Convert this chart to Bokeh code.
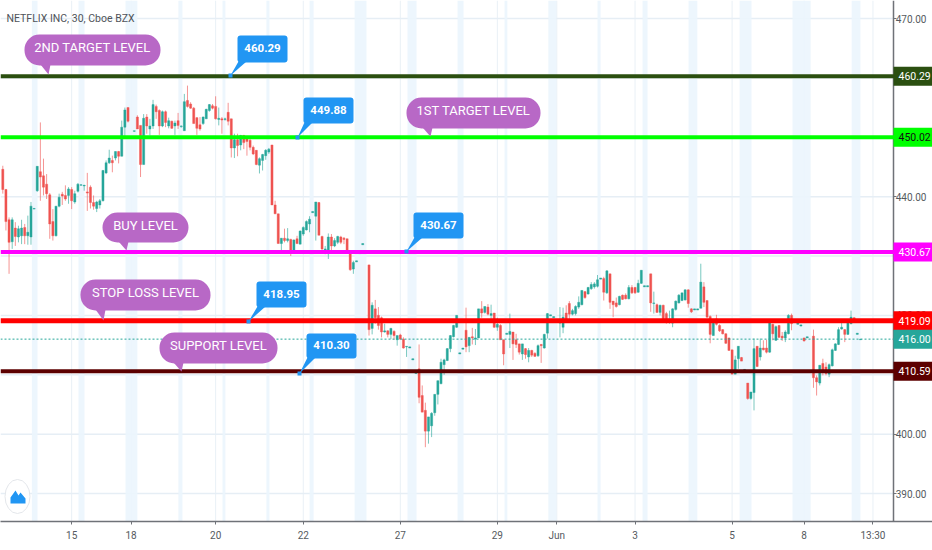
from bokeh.plotting import figure
from bokeh.models import (Label, Span, BoxAnnotation, PolyAnnotation, FixedTicker, LinearAxis,
                          NumeralTickFormatter, Range1d)
from bokeh.embed import file_html
from bokeh.resources import INLINE

opens = [
444.6,441.2,436.1,432.4,434.7,433.2,433.4,434.8,433.4,433.2,
437.9,441.0,444.2,443.5,442.1,440.3,435.8,433.4,438.4,440.4,
440.2,440.2,441.2,439.1,440.9,441.9,441.8,440.8,441.6,439.0,
438.0,438.6,439.3,444.0,445.7,446.1,446.5,447.6,446.8,451.7,
455.0,450.0,451.0,453.4,452.0,445.4,453.4,451.4,451.9,455.2,
454.5,451.9,454.3,451.9,452.7,451.9,452.8,
451.8,451.1,456.2,455.6,454.9,453.3,452.1,452.3,453.1,454.5,
455.3,455.2,453.0,453.1,453.0,454.2,453.1,448.2,449.6,448.7,
450.3,449.7,449.5,448.3,447.8,445.3,446.1,446.9,447.5,448.7,
438.6,437.1,432.1,433.0,432.6,432.8,430.8,432.9,432.0,433.7,
434.4,435.4,437.3,436.7,439.0,433.3,430.8,430.4,433.2,431.7,
432.3,433.2,433.0,432.9,430.9,427.8,
429.0,430.4,431.9,430.5,428.5,417.8,421.1,420.0,419.6,417.2,
417.4,416.8,417.3,415.9,416.7,416.0,414.7,414.5,412.5,410.2,
411.0,406.5,404.0,400.5,401.4,403.6,406.7,408.5,411.7,412.4,
414.4,416.4,418.0,413.5,414.3,417.5,414.9,416.4,416.0,416.2,
421.1,420.5,421.4,420.0,420.4,418.0,418.3,415.9,416.8,416.8,
417.2,415.9,415.2,
413.5,414.4,413.0,414.1,413.6,413.2,415.1,414.5,417.0,419.9,
419.6,418.8,418.7,418.0,420.4,422.0,420.2,420.3,421.4,421.8,
424.0,423.6,424.5,424.8,424.9,426.1,426.2,423.8,427.0,422.4,
422.1,421.8,423.4,423.4,422.8,424.7,424.7,423.9,425.4,424.8,
424.8,427.0,422.0,421.8,420.5,421.7,420.3,419.0,418.7,421.0,
422.1,422.5,422.6,424.3,421.1,420.9,420.9,
421.2,424.8,422.5,419.8,416.6,419.4,418.3,417.6,416.9,416.2,
414.2,410.1,412.7,412.9,410.7,408.6,406.0,407.0,414.8,413.0,
414.5,414.5,413.8,418.5,415.8,418.3,416.5,416.2,416.9,420.0,
418.9,418.5,418.2,416.2,416.2,418.9,416.5,409.5,408.6,411.9,
411.3,410.1,411.5,414.1,415.1,417.7,417.6,416.8,418.6,419.6,
416.8,415.9]

highs = [
445.2,441.3,436.5,436.5,435.7,435.1,436.1,435.4,436.8,439.1,
438.1,445.1,452.5,446.4,443.8,440.6,437.9,438.4,440.5,440.8,
441.9,441.6,441.6,441.0,442.3,442.1,442.0,444.0,441.9,440.2,
439.3,439.6,444.5,446.1,447.9,446.9,447.6,447.7,452.8,455.0,
455.0,450.1,451.1,453.7,452.0,453.9,453.9,453.1,456.3,455.5,
454.7,454.5,454.5,453.3,452.8,452.8,454.1,
452.0,457.3,458.7,455.9,455.1,453.4,453.4,453.5,454.8,455.6,
455.6,456.9,455.0,453.4,453.3,455.8,453.1,450.6,450.6,450.4,
450.4,450.0,450.0,448.6,447.8,446.6,447.2,448.0,448.2,448.7,
439.3,437.1,433.0,434.6,434.7,432.9,432.8,433.4,434.3,435.0,
436.0,436.7,437.5,439.1,439.1,433.4,431.7,433.8,433.7,433.0,
433.4,433.4,433.2,432.9,430.9,429.2,
429.2,430.6,432.1,430.7,428.5,422.2,422.6,421.4,419.8,418.6,
417.5,417.9,417.5,416.6,416.9,416.3,414.8,414.7,412.7,410.4,
415.1,408.2,405.3,402.9,403.7,406.7,409.0,412.7,412.7,414.5,
416.7,418.4,420.0,413.7,414.5,421.3,416.3,417.9,417.7,421.1,
422.4,421.5,421.9,421.8,420.4,419.6,418.5,415.9,417.0,420.3,
417.2,416.9,415.2,
415.2,414.5,414.5,414.2,413.8,415.1,415.2,416.9,420.4,420.1,
419.8,419.0,421.4,421.3,421.7,422.4,421.1,421.7,423.2,424.2,
424.1,424.8,425.6,425.6,426.8,426.3,426.5,427.6,427.0,422.4,
423.0,423.3,423.5,423.7,425.1,425.1,424.8,426.0,427.6,425.0,
425.0,427.0,424.0,422.0,421.8,421.8,420.6,420.8,421.2,422.5,
423.6,423.8,424.4,424.4,421.2,421.1,421.1,
428.7,425.6,422.5,420.0,419.3,420.1,418.5,417.7,417.0,416.2,
414.2,413.2,414.8,413.0,410.9,408.6,407.1,416.1,414.8,416.1,
415.8,415.9,419.2,418.6,418.3,418.4,417.2,417.5,420.2,420.3,
419.1,418.7,418.4,416.2,416.4,419.1,417.6,409.9,411.6,412.7,
412.1,411.9,414.4,415.3,418.0,419.0,417.7,419.0,420.8,419.7,
417.0,416.0]

lows = [
440.5,434.3,427.0,431.2,431.7,432.3,432.0,432.0,431.9,431.9,
437.9,440.8,439.3,440.2,439.6,432.9,432.6,433.3,438.2,438.6,
439.3,438.8,437.9,438.8,440.7,441.9,441.0,437.6,438.0,437.8,
437.4,438.0,439.2,443.8,445.5,444.1,446.1,445.6,446.8,449.7,
452.5,449.9,450.9,451.4,443.3,445.4,450.6,450.3,451.4,453.1,
450.4,451.7,451.7,451.5,451.4,450.4,451.4,
451.6,451.1,455.0,454.8,452.3,450.4,451.1,452.1,453.1,454.3,
454.7,453.0,452.0,450.6,452.8,452.0,446.6,446.5,446.8,447.8,
448.0,446.9,447.8,447.0,445.3,443.9,444.4,446.2,447.2,438.6,
437.1,432.1,430.6,432.3,432.3,430.0,430.6,432.0,432.0,433.4,
434.3,434.0,437.3,432.6,433.5,430.6,430.3,429.5,430.6,431.5,
432.0,432.0,432.0,430.6,427.5,427.0,
429.0,430.4,431.9,430.5,416.6,416.8,418.6,417.6,416.3,417.1,
416.3,416.0,415.9,414.9,415.9,414.4,413.0,414.5,412.5,410.2,
405.2,403.7,397.8,398.4,399.5,403.1,405.0,408.4,410.0,412.3,
413.8,416.3,417.9,413.5,414.3,413.8,413.8,415.1,415.0,416.2,
419.6,420.3,420.0,419.4,417.9,417.4,415.9,411.6,416.8,414.5,
412.5,414.5,413.4,
412.5,412.7,412.1,413.0,413.0,413.0,412.0,414.4,416.1,419.9,
419.6,418.8,416.3,417.0,419.4,419.4,420.0,420.0,421.1,421.7,
422.8,423.5,424.3,424.5,424.7,426.1,422.5,423.6,421.1,419.7,
421.3,421.7,422.6,422.7,422.7,423.6,423.6,423.8,425.3,424.8,
424.8,420.6,420.3,420.4,420.0,418.9,418.6,418.6,418.0,420.8,
422.0,422.4,422.5,421.3,420.4,420.9,420.9,
421.2,421.4,419.6,415.3,416.6,418.3,417.2,416.8,415.2,414.0,
410.1,410.1,411.0,412.3,410.7,405.8,405.8,404.0,411.3,412.4,
414.1,413.6,413.7,415.8,415.7,416.2,415.7,415.5,416.8,417.5,
418.9,418.5,418.2,415.6,416.2,418.9,407.8,406.5,408.2,409.9,
409.9,409.6,411.4,414.0,415.0,417.6,415.5,416.7,418.5,419.2,
416.8,415.9]

closes = [
441.2,435.8,432.3,436.1,433.3,434.6,434.7,433.4,434.0,438.4,
438.0,445.1,443.3,441.6,440.5,435.4,433.4,438.4,439.9,440.1,
439.6,441.3,439.3,440.5,442.1,442.0,441.9,440.6,439.0,438.4,
439.1,439.3,444.4,445.7,446.5,445.7,447.6,446.8,451.7,454.6,
452.7,450.1,451.1,451.4,445.4,453.2,451.9,451.9,455.5,454.3,
451.9,454.3,452.5,452.8,451.5,452.4,452.0,
451.9,456.0,455.2,454.9,452.3,451.5,451.4,453.4,454.7,455.5,
454.9,453.1,453.2,452.9,453.1,452.7,448.2,449.6,448.6,450.3,
449.1,449.3,448.3,447.2,445.4,446.4,447.1,447.8,448.0,438.6,
437.1,432.1,433.0,432.6,432.9,430.8,432.7,432.1,434.2,434.8,
435.8,436.2,437.5,439.1,433.5,431.2,431.2,433.2,431.7,432.6,
433.3,432.3,432.8,430.6,427.7,428.9,
429.2,430.6,432.1,430.7,417.6,421.7,419.6,418.3,417.2,417.4,
416.8,417.8,416.6,416.6,416.0,414.5,414.8,414.7,412.7,410.4,
406.2,403.7,400.5,402.9,403.5,406.7,409.0,412.1,412.5,414.4,
416.6,418.3,420.0,413.7,414.5,414.7,416.3,416.2,416.2,421.1,
420.4,421.5,420.2,420.3,418.0,418.5,415.9,413.5,417.0,417.3,
415.2,415.1,413.8,
415.2,413.4,414.1,413.3,413.1,414.9,414.9,416.8,420.3,420.1,
419.8,419.0,418.9,419.7,419.4,420.2,420.8,421.5,422.2,424.2,
423.0,424.7,425.2,425.3,426.0,426.3,423.9,427.5,422.2,421.8,
421.5,423.2,422.7,422.8,424.7,423.8,423.8,425.4,427.6,425.0,
425.0,422.1,422.1,420.5,421.7,419.4,419.2,419.4,421.1,422.4,
423.4,423.8,424.3,422.0,420.6,421.1,421.1,
425.6,422.2,419.7,416.8,419.2,418.5,417.4,416.9,415.3,414.1,
410.1,412.5,414.8,412.3,410.9,406.0,407.1,414.4,411.4,414.5,
414.2,413.8,419.0,416.9,418.1,416.3,416.2,417.2,420.0,418.6,
419.1,418.7,418.4,415.7,416.4,419.1,409.5,408.8,411.6,410.4,
410.2,411.7,414.2,415.2,417.6,418.0,416.8,418.9,419.7,419.3,
417.0,416.0]

assert len(opens) == len(highs) == len(lows) == len(closes)

price_ticks = [390, 400, 410, 420, 430, 440, 450, 460, 470]
date_ticks = [22, 41, 68, 96, 127, 158, 177, 202, 233, 256, 278]
date_labels = ["15", "18", "20", "22", "27", "29", "Jun", "3", "5", "8", "13:30"]
band_starts = [9.3, 24.2, 39.2, 56.1, 70.2, 84.2, 98.0, 112.4, 129.3, 145.3, 160.3, 174.3, 190.0, 204.4, 219.1, 235.4, 252.3, 271.2]
band_ends = [11.1, 26.1, 43.0, 57.4, 71.1, 85.2, 99.3, 116.2, 132.2, 147.2, 161.2, 176.9, 191.0, 206.0, 221.9, 239.2, 258.1, 274.0]
level_values = [460.29, 450.02, 430.67, 419.09, 410.59]
level_tags = ["460.29", "450.02", "430.67", "419.09", "410.59"]
level_colors = ["#2b4f10", "#00ff00", "#ff00ff", "#ff0000", "#5c0000"]
level_text = ["#ffffff", "#111111", "#ffffff", "#ffffff", "#ffffff"]
level_widths = [4, 4, 4, 5, 4]
last_price = 416.00
balloon_texts = ["2ND TARGET LEVEL", "1ST TARGET LEVEL", "BUY LEVEL", "STOP LOSS LEVEL", "SUPPORT LEVEL"]
note_texts = ["460.29", "449.88", "430.67", "418.95", "410.30"]

BAR_PX = 3.13
def X(px):
    return (px - 2.3) / BAR_PX
def Y(py):
    return 470 - (py - 18) / 5.9375

GREEN = "#26a69a"
RED = "#ef5350"
FONT = "Roboto"
AXIS = "#6f7278"

p = figure(width=932, height=550, frame_width=932, frame_height=521,
           x_range=Range1d(X(0), X(932)), y_range=Range1d(Y(521), Y(0)),
           x_axis_location=None, y_axis_location=None, toolbar_location=None, output_backend="svg",
           min_border=0, min_border_left=0, min_border_top=0, min_border_right=0, min_border_bottom=0,
           background_fill_color="#ffffff", border_fill_color="#ffffff", outline_line_color=None)
p.grid.visible = False

xax = LinearAxis(ticker=FixedTicker(ticks=date_ticks),
                 major_label_overrides=dict(zip(date_ticks, date_labels)))
yax = LinearAxis(fixed_location=X(893), ticker=FixedTicker(ticks=price_ticks),
                 formatter=NumeralTickFormatter(format="0.00"))
for ax in (xax, yax):
    ax.axis_line_color = AXIS
    ax.axis_line_width = 1.5
    ax.major_tick_line_color = AXIS
    ax.minor_tick_line_color = None
    ax.major_label_text_font = FONT
    ax.major_label_text_font_size = "10px"
    ax.major_label_text_color = "#555a60"
xax.major_tick_in = 0
xax.major_tick_out = 3
xax.major_label_standoff = 5
yax.major_tick_in = 3
yax.major_tick_out = 0
yax.major_label_standoff = -33
p.add_layout(xax, "below")
p.add_layout(yax, "left")

p.segment(x0=date_ticks, y0=Y(521), x1=date_ticks, y1=Y(0), line_color="#e9f0f6", line_width=1, level="underlay")
p.segment(x0=X(0), y0=price_ticks, x1=X(893), y1=price_ticks, line_color="#e6eef5", line_width=1.5, level="underlay")
p.quad(left=band_starts, right=band_ends, bottom=Y(521), top=Y(0),
       fill_color="#ebf5fd", fill_alpha=0.9, line_color=None, level="underlay")

idx = list(range(len(opens)))
wick_colors = [GREEN if c >= o else RED for o, c in zip(opens, closes)]
p.segment(idx, lows, idx, highs, line_color=wick_colors, line_width=1, line_alpha=0.62)
p.vbar(x=idx, width=0.68, bottom=[min(o, c) for o, c in zip(opens, closes)],
       top=[max(o, c) for o, c in zip(opens, closes)],
       fill_color=wick_colors, line_color=wick_colors, line_width=0.4)

p.add_layout(Span(location=last_price, dimension="width", line_color=GREEN,
                  line_width=1, line_dash=[2, 2]))
for v, col, w in zip(level_values, level_colors, level_widths):
    p.add_layout(Span(location=v, dimension="width", line_color=col, line_width=w))

# purple balloons: left, right, top, bottom, tip x, tip y (page px)
balloons = [(24, 160, 34, 65, 48, 74), (406, 540, 97, 128, 430, 136), (102, 188, 212, 242, 126, 250),
            (80, 210, 279, 310, 103, 320), (159, 277, 332, 363, 181, 371)]
PURPLE = "#b868c6"
for text, (l, r, t, b, tx, ty) in zip(balloon_texts, balloons):
    p.add_layout(PolyAnnotation(xs=[X(tx - 8), X(tx + 2), X(tx)], ys=[Y(b - 1), Y(b - 1), Y(ty)],
                                fill_color=PURPLE, fill_alpha=1, line_alpha=0))
    p.add_layout(BoxAnnotation(left=X(l), right=X(r), top=Y(t), bottom=Y(b), fill_color=PURPLE,
                               fill_alpha=1, line_alpha=0, border_radius=15))
    p.add_layout(Label(x=X((l + r) / 2), y=Y((t + b) / 2 - 2.5), text=text, text_color="#ffffff",
                       text_font=FONT, text_font_size="13px", text_align="center",
                       text_baseline="middle"))

# blue price notes: left, top, bottom, tip x, tip y (page px)
notes = [(237, 35, 62, 230, 75), (303, 97, 123, 297, 137), (413, 212, 238, 406, 251),
         (256, 281, 307, 248, 321), (306, 333, 358, 299, 373)]
BLUE = "#2196f3"
for text, (l, t, b, tx, ty) in zip(note_texts, notes):
    p.add_layout(PolyAnnotation(xs=[X(l + 1), X(l + 9), X(tx)], ys=[Y(b - 1), Y(b - 1), Y(ty)],
                                fill_color=BLUE, fill_alpha=1, line_alpha=0))
    p.add_layout(BoxAnnotation(left=X(l), right=X(l + 50), top=Y(t), bottom=Y(b), fill_color=BLUE,
                               fill_alpha=1, line_alpha=0, border_radius=3))
    p.add_layout(Label(x=X(l + 25), y=Y((t + b) / 2 - 1), text=text, text_color="#ffffff",
                       text_font=FONT, text_font_style="bold", text_font_size="11.5px",
                       text_align="center", text_baseline="middle"))
    p.add_layout(PolyAnnotation(xs=[X(tx - 2), X(tx + 2), X(tx + 2), X(tx - 2)],
                                ys=[Y(ty - 2), Y(ty - 2), Y(ty + 2), Y(ty + 2)],
                                fill_color=BLUE, fill_alpha=1, line_alpha=0))

# axis edge continuing below the time scale
p.add_layout(PolyAnnotation(xs=[X(892.4), X(893.6), X(893.6), X(892.4)], ys=[Y(520), Y(520), Y(550), Y(550)],
                            fill_color=AXIS, fill_alpha=1, line_alpha=0))

# right-hand price tags
for v, tag, col, tcol in list(zip(level_values, level_tags, level_colors, level_text)) + [(last_price, "416.00", GREEN, "#ffffff")]:
    py = 18 + (470 - v) * 5.9375
    p.add_layout(PolyAnnotation(xs=[X(893), X(932), X(932), X(893)], ys=[Y(py - 9.5), Y(py - 9.5), Y(py + 9.5), Y(py + 9.5)],
                                fill_color=col, fill_alpha=1, line_alpha=0))
    p.add_layout(Label(x=X(898), y=v, text=tag, text_color=tcol, text_font=FONT, text_font_size="10.5px",
                       text_align="left", text_baseline="middle"))

p.add_layout(Label(x=X(6), y=Y(18), text="NETFLIX INC, 30, Cboe BZX", text_color="#4f5359",
                   text_font=FONT, text_font_size="10.5px", text_align="left", text_baseline="middle"))

# watermark logo
p.ellipse([X(17)], [Y(496)], width=25 / BAR_PX, height=34 / 5.9375, fill_color="#ffffff",
          line_color="#e3e6ea", line_width=1)
p.add_layout(PolyAnnotation(xs=[X(10), X(15), X(18), X(20), X(25), X(25), X(10)],
                            ys=[Y(497), Y(490), Y(495), Y(492), Y(498), Y(503), Y(503)],
                            fill_color="#2196f3", fill_alpha=1, line_alpha=0))

open("out.html", "w").write(file_html(p, INLINE))
